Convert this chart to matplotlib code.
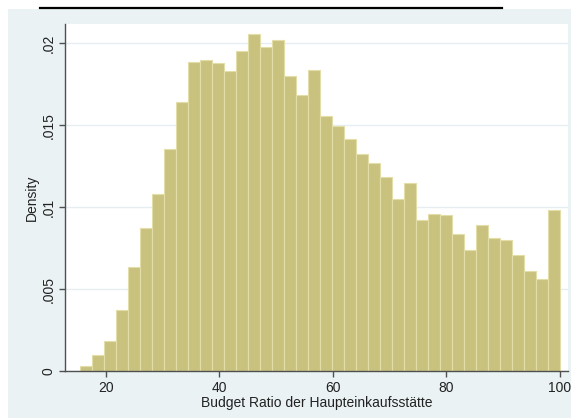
import matplotlib
matplotlib.use('Agg')
import matplotlib.pyplot as plt
import numpy as np
from matplotlib.patches import Rectangle
from matplotlib.lines import Line2D

plt.rcParams['font.family'] = ['Liberation Sans', 'DejaVu Sans']

# histogram: 40 bins between min and max of the ratio
x_min = 15.5
x_max = 100.0
density = [0.00033, 0.0010, 0.00183, 0.00372, 0.00633, 0.00873, 0.01078, 0.01355,
           0.0164, 0.01884, 0.0190, 0.01882, 0.01833, 0.01955, 0.02059, 0.01976,
           0.02022, 0.01801, 0.01685, 0.01839, 0.01559, 0.01495, 0.01414, 0.01327,
           0.01272, 0.01182, 0.0105, 0.01148, 0.0092, 0.0096, 0.00954, 0.00838,
           0.00739, 0.00889, 0.0081, 0.0080, 0.00708, 0.0061, 0.0056, 0.00983]
xticks = [20, 40, 60, 80, 100]
yticks = [0, 0.005, 0.01, 0.015, 0.02]
ytick_labels = ['0', '.005', '.01', '.015', '.02']

bg = '#eaf2f3'
bar_fill = '#c9c27f'
bar_edge = '#e3dea8'

fig = plt.figure(figsize=(5.71, 4.18), dpi=100)
fig.patch.set_facecolor('white')

# graph region (light bluish) and cut-off slide title line
fig.patches.append(Rectangle((8/571, 0), 1 - 8/571, (418 - 9)/418,
                             transform=fig.transFigure, facecolor=bg,
                             edgecolor='none', zorder=-10))
fig.lines.append(Line2D([40/571, 502/571], [1 - 8/418, 1 - 8/418],
                        transform=fig.transFigure, color='black', lw=1.6))

ax = fig.add_axes([65/571, (418 - 371)/418, (568 - 65)/571, (371 - 24)/418])
ax.set_facecolor('white')

edges = np.linspace(x_min, x_max, len(density) + 1)
ax.bar(edges[:-1], density, width=np.diff(edges), align='edge',
       color=bar_fill, edgecolor=bar_edge, linewidth=0.8, zorder=2)

ax.set_xlim(12.83, 101.41)
ax.set_ylim(0, 0.02118)

ax.set_yticks(yticks)
ax.set_yticklabels(ytick_labels, rotation=90, va='center')
ax.set_xticks(xticks)
ax.yaxis.grid(True, color='#e6eef1', lw=1.0, zorder=0)
ax.set_axisbelow(True)

for side in ['top', 'right']:
    ax.spines[side].set_visible(False)
for side in ['left', 'bottom']:
    ax.spines[side].set_color('#505050')
    ax.spines[side].set_linewidth(1.0)
ax.tick_params(direction='out', length=4, width=1.0, color='#505050',
               labelsize=10, labelcolor='#222222', pad=3)

ax.set_xlabel('Budget Ratio der Haupteinkaufsstätte', fontsize=10,
              color='#222222', labelpad=1)
ax.set_ylabel('Density', fontsize=10, color='#222222', labelpad=2)

fig.savefig('out.png', dpi=100, facecolor=fig.get_facecolor())
